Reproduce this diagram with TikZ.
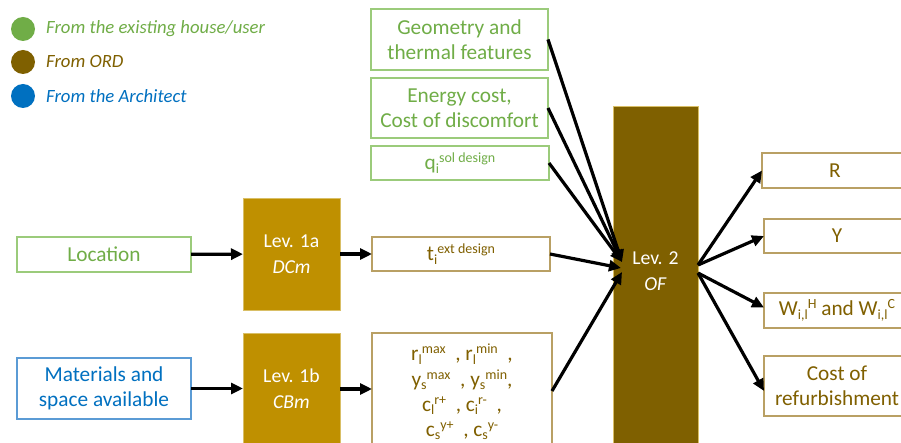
\documentclass[tikz,border=0pt]{standalone}
\usepackage{fontspec}
\setmainfont{Carlito}
\usetikzlibrary{arrows.meta}
\definecolor{cgreen}{HTML}{70AD47}
\definecolor{cgreenb}{HTML}{9BCB7B}
\definecolor{cbrown}{HTML}{7F6000}
\definecolor{cbrownt}{HTML}{806000}
\definecolor{cbrownb}{HTML}{B9A064}
\definecolor{cgold}{HTML}{BF9000}
\definecolor{cgoldb}{HTML}{D9BF66}
\definecolor{cblue}{HTML}{0070C0}
\definecolor{cblueb}{HTML}{5B9BD5}
\newcommand\supx[1]{\raisebox{7pt}{\fontsize{14}{14}\selectfont #1}}
\newcommand\subx[1]{\raisebox{-3.5pt}{\fontsize{14}{14}\selectfont #1}}
\tikzset{
  basebox/.style={draw, line width=1.3pt, inner sep=0pt, outer sep=0pt, align=center,
    font=\fontsize{21.3}{25}\selectfont},
  greenbox/.style={basebox, draw=cgreenb, text=cgreen},
  brownbox/.style={basebox, draw=cbrownb, text=cbrownt},
  bluebox/.style={basebox, draw=cblueb, text=cblue},
  levbox/.style={draw=cgoldb, line width=0.6pt, fill=cgold, text=white, inner sep=0pt, outer sep=0pt,
    align=center, font=\fontsize{19.7}{26}\selectfont},
  lev2box/.style={draw=cgoldb, line width=0.6pt, fill=cbrown, inner sep=0pt, outer sep=0pt},
  legdot/.style={circle, inner sep=0pt, minimum size=24pt},
  legtxt/.style={anchor=west, inner sep=0pt, font=\fontsize{18.7}{22}\selectfont\itshape},
  arr/.style={line width=3.2pt, -{Triangle[length=12pt,width=11pt]}},
}
\begin{document}
\begin{tikzpicture}[x=1pt,y=-1pt]
\useasboundingbox (0,0) rectangle (901,443);
\clip (0,0) rectangle (901,443);
\fill[white] (0,0) rectangle (901,443);

% legend
\node[legdot, fill=cgreen] (lg1) at (23,29) {};
\node[legdot, fill=cbrown] (lg2) at (23,62) {};
\node[legdot, fill=cblue] (lg3) at (23,96) {};
\node[legtxt, text=cgreen] (lt1) at (46,29) {From the existing house/user};
\node[legtxt, text=cbrown] (lt2) at (46,62) {From ORD};
\node[legtxt, text=cblue] (lt3) at (46,96) {From the Architect};

% left inputs
\node[greenbox, minimum width=174pt, minimum height=35pt] (loc) at (104,254.5) {Location};
\node[bluebox, minimum width=174pt, minimum height=61pt] (mat) at (104,388.5) {Materials and\\space available};

% level 1 boxes
\node[levbox, minimum width=97pt, minimum height=112pt] (l1a) at (291.5,254) {Lev. 1a\\\textit{DCm}};
\node[levbox, minimum width=97pt, minimum height=112pt] (l1b) at (291.5,389) {Lev. 1b\\\textit{CBm}};

% middle column
\node[greenbox, minimum width=177pt, minimum height=61pt] (geo) at (459.5,39.5) {Geometry and\\thermal features};
\node[greenbox, minimum width=177pt, minimum height=60pt] (ene) at (459.5,108) {Energy cost,\\Cost of discomfort};
\node[greenbox, minimum width=178pt, minimum height=34pt] (qsol) at (460,163) {q\subx{i}\supx{sol design}};
\node[brownbox, minimum width=178pt, minimum height=34pt] (ti) at (461,254) {t\subx{i}\supx{ext design}};
\node[brownbox, minimum width=180pt, minimum height=124pt] (big) at (462,395) {};
\node[anchor=north, inner sep=0pt, align=center, text=cbrownt, font=\fontsize{21.3}{25.2}\selectfont] (bigt) at (462,344)
  {r\subx{l}\supx{max}~~, r\subx{l}\supx{min}~~,\\
   y\subx{s}\supx{max}~~, y\subx{s}\supx{min},\\
   c\subx{l}\supx{r+}~~, c\subx{i}\supx{r-}~~,\\
   c\subx{s}\supx{y+}~~, c\subx{s}\supx{y-}};

% level 2
\node[lev2box, minimum width=85pt, minimum height=350pt] (l2) at (655.5,281) {};
\node[inner sep=0pt, align=center, text=white, font=\fontsize{19.7}{26}\selectfont] (l2t) at (655.5,271) {Lev. 2\\\textit{OF}};

% outputs
\node[brownbox, minimum width=146pt, minimum height=35pt] (r) at (835,170.5) {R};
\node[brownbox, minimum width=146pt, minimum height=34pt] (y) at (837,236) {Y};
\node[brownbox, minimum width=146pt, minimum height=35pt] (w) at (837,310.5) {W\subx{i,l}\supx{H} and W\subx{i,l}\supx{C}};
\node[brownbox, minimum width=146pt, minimum height=60pt] (cost) at (837,386) {Cost of\\refurbishment};

% connector ends
\coordinate (in1) at (622,262);
\coordinate (in2) at (621,268);
\coordinate (in3) at (622,272);
\coordinate (out1) at (698,265);
\coordinate (out2) at (698,273);

% arrows
\draw[arr] (loc) -- (l1a);
\draw[arr] (mat.east) -- (mat.east -| l1b.west);
\draw[arr] (l1a.east) -- (l1a.east -| ti.west);
\draw[arr] (l1b.east) -- (l1b.east -| big.west);
\draw[arr] (geo.east) -- (in1);
\draw[arr] (ene.east) -- (in1);
\draw[arr] (qsol.east) -- (in1);
\draw[arr] (ti.east) -- (in2);
\draw[arr] ([yshift=4pt]big.east) -- (in3);
\draw[arr] (out1) -- (r.west);
\draw[arr] (out1) -- (y.west);
\draw[arr] (out2) -- ([yshift=3pt]w.west);
\draw[arr] (out2) -- ([yshift=-5pt]cost.west);
\end{tikzpicture}
\end{document}
